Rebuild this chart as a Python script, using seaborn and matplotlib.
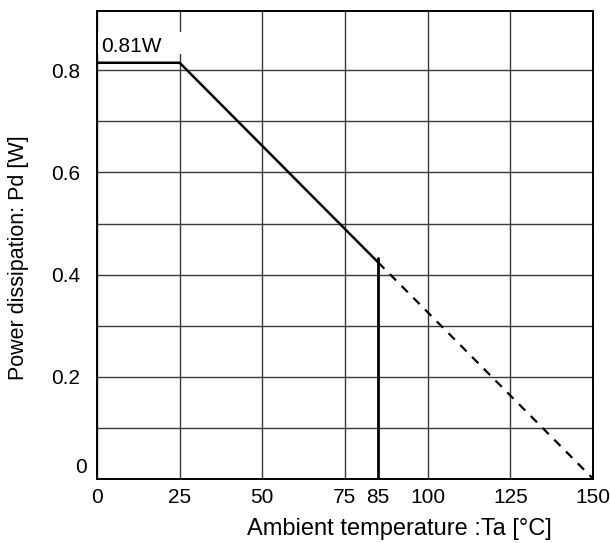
import matplotlib
matplotlib.use("Agg")
import matplotlib.pyplot as plt
from matplotlib.patches import Rectangle
import seaborn as sns
import pandas as pd

# Data
temp_solid = [0, 25, 85]
pd_solid = [0.815, 0.815, 0.424]
temp_dashed = [85, 150]
pd_dashed = [0.424, 0.0]
derate_x = [85, 85]
derate_y = [0.0, 0.432]
x_ticks = [0, 25, 50, 75, 85, 100, 125, 150]
x_grid = [0, 25, 50, 75, 100, 125, 150]
y_ticks = [0.2, 0.4, 0.6, 0.8]
y_grid = [0.1, 0.2, 0.3, 0.4, 0.5, 0.6, 0.7, 0.8]
label_text = "0.81W"

sns.set_style("white")
plt.rcParams['font.family'] = ['Liberation Sans', 'DejaVu Sans']
plt.rcParams['text.color'] = 'black'
plt.rcParams['axes.labelcolor'] = 'black'
plt.rcParams['xtick.color'] = 'black'
plt.rcParams['ytick.color'] = 'black'

fig = plt.figure(figsize=(6.11, 5.43), dpi=100)
ax = fig.add_axes([97/611, 1-478.7/543, (593-97)/611, (478.7-10.7)/543])

for gx in x_grid:
    ax.axvline(gx, color="#3a3a3a", lw=1.0, zorder=1)
for gy in y_grid:
    ax.axhline(gy, color="#3a3a3a", lw=1.0, zorder=1)

df1 = pd.DataFrame({"t": temp_solid, "p": pd_solid})
df2 = pd.DataFrame({"t": temp_dashed, "p": pd_dashed})
df3 = pd.DataFrame({"t": derate_x, "p": derate_y})
sns.lineplot(data=df1, x="t", y="p", ax=ax, color="black", lw=1.8, sort=False,
             estimator=None, zorder=3)
sns.lineplot(data=df2, x="t", y="p", ax=ax, color="black", lw=1.6, sort=False,
             estimator=None, linestyle=(0, (4, 3.5)), zorder=3)
sns.lineplot(data=df3, x="t", y="p", ax=ax, color="black", lw=2.0, sort=False,
             estimator=None, zorder=3)

# white box behind label (cuts the gridline like the reference)
ax.add_patch(Rectangle((0.3, 0.832), 25.6, 0.043,
                       facecolor="white", edgecolor="none", zorder=2))
ax.text(1.2, 0.847, label_text, fontsize=15, va="center", ha="left", zorder=4, color="black")

ax.set_xlim(0, 150)
ax.set_ylim(0, 0.917)
ax.set_xticks(x_ticks)
ax.set_xticklabels([str(v) for v in x_ticks], fontsize=15)
ax.set_yticks(y_ticks)
ax.set_yticklabels([str(v) for v in y_ticks], fontsize=15)
ax.text(-0.02, 0.022, "0", transform=ax.get_yaxis_transform(), ha="right", va="center",
        fontsize=15, color="black")
ax.tick_params(axis="y", length=0, pad=12, labelcolor="black")
ax.tick_params(axis="x", length=0, pad=7, labelcolor="black")
ax.grid(False)

for s in ax.spines.values():
    s.set_color("black")
    s.set_linewidth(1.4)
    s.set_zorder(5)

ax.set_xlabel("Ambient temperature :Ta [°C]", fontsize=17, color="black")
ax.set_ylabel("Power dissipation: Pd [W]", fontsize=15.5, color="black")
ax.xaxis.set_label_coords((399-97)/496, -0.083)
ax.yaxis.set_label_coords(-0.137, (478.7-257.6)/468)

fig.savefig("out.png", dpi=100)
